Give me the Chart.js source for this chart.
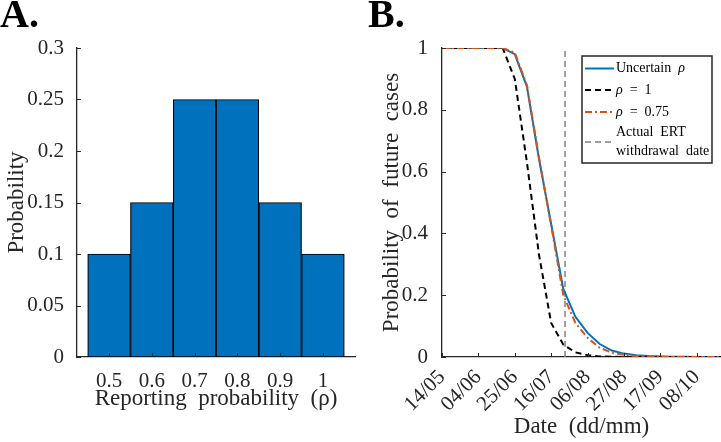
<!DOCTYPE html>
<html>
<head>
<meta charset="utf-8">
<script src="https://cdn.jsdelivr.net/npm/chart.js@4.4.1/dist/chart.umd.min.js"></script>
<style>
  body { margin: 0; background: #fff; }
  .panel { position: absolute; top: 0; height: 442px; }
  #panelA { left: 0; width: 360px; }
  #panelB { left: 360px; width: 361px; }
</style>
</head>
<body>
<div class="panel" id="panelA"><canvas id="chartA"></canvas></div>
<div class="panel" id="panelB"><canvas id="chartB"></canvas></div>
<script>
"use strict";

// Panel A: distribution of the reporting probability
const rhoValues = [0.5, 0.6, 0.7, 0.8, 0.9, 1];
const rhoProbs = [0.1, 0.15, 0.25, 0.25, 0.15, 0.1];
const probTicks = [0, 0.05, 0.1, 0.15, 0.2, 0.25, 0.3];

// Panel B: probability of future cases, days counted from 14/05
const days = [0, 7, 14, 21, 28, 35, 42, 49, 56, 63, 70, 77, 84, 91, 98, 105, 112, 119, 126, 133, 140, 147, 154, 161];
const uncertainRho = [1, 1, 1, 1, 1, 1, 0.98, 0.875, 0.64, 0.43, 0.22, 0.13, 0.078, 0.042, 0.021, 0.011, 0.006, 0.003, 0.002, 0.001, 0.001, 0, 0, 0];
const rhoOne = [1, 1, 1, 1, 1, 1, 0.9, 0.63, 0.33, 0.11, 0.04, 0.015, 0.006, 0.002, 0.001, 0, 0, 0, 0, 0, 0, 0, 0, 0];
const rhoThreeQuarter = [1, 1, 1, 1, 1, 1, 0.985, 0.88, 0.645, 0.425, 0.2, 0.11, 0.062, 0.03, 0.014, 0.007, 0.003, 0.002, 0.001, 0, 0, 0, 0, 0];
const dateTickDays = [0, 21, 42, 63, 84, 105, 126, 147];
const dateTickLabels = ["14/05", "04/06", "25/06", "16/07", "06/08", "27/08", "17/09", "08/10"];
const futureTicks = [0, 0.2, 0.4, 0.6, 0.8, 1];
const withdrawalDay = 71; // 24/07

const AXIS_COLOR = "#262626";
const SERIF = "'Liberation Serif', 'Times New Roman', serif";

Chart.defaults.font.family = SERIF;
Chart.defaults.color = AXIS_COLOR;
Chart.defaults.animation = false;

const toPoints = (xs, ys) => xs.map((x, i) => ({ x: x, y: ys[i] }));
const plainLabel = (value) => String(value);

// MATLAB-style tick marks pointing into the plot
const inwardTicks = {
  id: "inwardTicks",
  afterDatasetsDraw(chart) {
    const { ctx, chartArea, scales } = chart;
    ctx.save();
    ctx.strokeStyle = AXIS_COLOR;
    ctx.lineWidth = 1;
    ctx.beginPath();
    scales.x.ticks.forEach((t) => {
      const px = Math.round(scales.x.getPixelForValue(t.value)) + 0.5;
      ctx.moveTo(px, chartArea.bottom);
      ctx.lineTo(px, chartArea.bottom - 4);
    });
    scales.y.ticks.forEach((t) => {
      const py = Math.round(scales.y.getPixelForValue(t.value)) + 0.5;
      ctx.moveTo(chartArea.left, py);
      ctx.lineTo(chartArea.left + 4, py);
    });
    ctx.stroke();
    ctx.restore();
  }
};

// Panel letter in the top left corner
const panelLetter = {
  id: "panelLetter",
  afterDraw(chart, args, opts) {
    const ctx = chart.ctx;
    ctx.save();
    ctx.font = "bold 40px " + SERIF;
    ctx.fillStyle = "#000";
    ctx.textBaseline = "alphabetic";
    ctx.fillText(opts.text, opts.x, 27);
    ctx.restore();
  }
};

// draw a string with every rho in italics
const drawRich = (ctx, str, x, y) => {
  str.split(/(ρ)/).forEach((part) => {
    if (!part) return;
    ctx.font = (part === "ρ" ? "italic " : "") + "14px " + SERIF;
    ctx.fillText(part, x, y);
    x += ctx.measureText(part).width;
  });
};

// boxed legend of panel B, with a two-line last entry
const boxLegend = {
  id: "boxLegend",
  afterDraw(chart) {
    const ctx = chart.ctx;
    const left = 222, top = 56, right = 352, bottom = 163;
    const rows = [68.5, 90, 112, 142];
    ctx.save();
    ctx.fillStyle = "#fff";
    ctx.fillRect(left, top, right - left, bottom - top);
    ctx.strokeStyle = AXIS_COLOR;
    ctx.lineWidth = 1.5;
    ctx.strokeRect(left, top, right - left, bottom - top);
    ctx.textBaseline = "middle";
    ctx.fillStyle = "#000";
    chart.data.datasets.forEach((ds, i) => {
      const y = rows[i];
      ctx.save();
      ctx.strokeStyle = ds.borderColor;
      ctx.lineWidth = ds.borderWidth;
      ctx.setLineDash(ds.borderDash || []);
      ctx.beginPath();
      ctx.moveTo(left + 3, y);
      ctx.lineTo(left + 32, y);
      ctx.stroke();
      ctx.restore();
      const lines = ds.label.split("\n");
      lines.forEach((line, k) => {
        const ly = lines.length === 1 ? y : y - 9.5 + k * 19;
        drawRich(ctx, line, left + 34, ly);
      });
    });
    ctx.restore();
  }
};

const renderPanelA = () => {
  new Chart(document.getElementById("chartA"), {
    type: "bar",
    data: {
      datasets: [
        {
          data: toPoints(rhoValues, rhoProbs),
          backgroundColor: "#0072BD",
          borderColor: "#000",
          borderWidth: 1.2,
          borderSkipped: false,
          barPercentage: 1,
          categoryPercentage: 1
        }
      ]
    },
    options: {
      responsive: true,
      maintainAspectRatio: false,
      layout: { padding: { top: 48, right: 5, left: 0, bottom: 0 } },
      plugins: {
        legend: { display: false },
        tooltip: { enabled: false },
        panelLetter: { text: "A.", x: 0 }
      },
      scales: {
        x: {
          type: "linear",
          offset: false,
          min: 0.425,
          max: 1.075,
          afterBuildTicks: (scale) => {
            scale.ticks = rhoValues.map((v) => ({ value: v }));
          },
          afterFit: (scale) => { scale.height = 85; },
          grid: { display: false },
          border: { color: AXIS_COLOR, width: 1.3 },
          ticks: { font: { size: 21 }, padding: 4, maxRotation: 0, callback: plainLabel },
          title: {
            display: true,
            text: "Reporting  probability  (ρ)",
            font: { size: 23 },
            padding: { top: 0, bottom: 29 }
          }
        },
        y: {
          min: 0,
          max: 0.3,
          afterBuildTicks: (scale) => {
            scale.ticks = probTicks.map((v) => ({ value: v }));
          },
          afterFit: (scale) => { scale.width = 77; },
          grid: { display: false },
          border: { color: AXIS_COLOR, width: 1.3 },
          ticks: { font: { size: 21 }, padding: 5, callback: plainLabel },
          title: {
            display: true,
            text: "Probability",
            font: { size: 23 },
            padding: { top: 3, bottom: 0 }
          }
        }
      }
    },
    plugins: [inwardTicks, panelLetter]
  });
};

const renderPanelB = () => {
  new Chart(document.getElementById("chartB"), {
    type: "line",
    data: {
      datasets: [
        {
          label: "Uncertain  ρ",
          data: toPoints(days, uncertainRho),
          borderColor: "#0072BD",
          borderWidth: 2,
          order: 3
        },
        {
          label: "ρ  =  1",
          data: toPoints(days, rhoOne),
          borderColor: "#000",
          borderWidth: 2,
          borderDash: [6, 4],
          order: 2
        },
        {
          label: "ρ  =  0.75",
          data: toPoints(days, rhoThreeQuarter),
          borderColor: "#D95319",
          borderWidth: 2,
          borderDash: [7, 3, 2, 3],
          order: 1
        },
        {
          label: "Actual  ERT\nwithdrawal  date",
          data: [{ x: withdrawalDay, y: 0 }, { x: withdrawalDay, y: 1 }],
          borderColor: "#808080",
          borderWidth: 1.5,
          borderDash: [6, 4],
          order: 4
        }
      ]
    },
    options: {
      responsive: true,
      maintainAspectRatio: false,
      layout: { padding: { top: 48, right: 0, left: 0, bottom: 0 } },
      elements: { point: { radius: 0 }, line: { tension: 0 } },
      plugins: {
        legend: { display: false },
        tooltip: { enabled: false },
        panelLetter: { text: "B.", x: 8 }
      },
      scales: {
        x: {
          type: "linear",
          min: 0,
          max: 161,
          afterBuildTicks: (scale) => {
            scale.ticks = dateTickDays.map((v) => ({ value: v }));
          },
          afterFit: (scale) => { scale.height = 85; },
          grid: { display: false },
          border: { color: AXIS_COLOR, width: 1.3 },
          ticks: {
            font: { size: 21 },
            padding: 0,
            autoSkip: false,
            minRotation: 45,
            maxRotation: 45,
            callback: (value) => dateTickLabels[dateTickDays.indexOf(value)]
          },
          title: {
            display: true,
            text: "Date  (dd/mm)",
            font: { size: 23 },
            padding: { top: 0, bottom: 1 }
          }
        },
        y: {
          min: 0,
          max: 1,
          afterBuildTicks: (scale) => {
            scale.ticks = futureTicks.map((v) => ({ value: v }));
          },
          afterFit: (scale) => { scale.width = 82; },
          grid: { display: false },
          border: { color: AXIS_COLOR, width: 1.3 },
          ticks: { font: { size: 21 }, padding: 6, callback: plainLabel },
          title: {
            display: true,
            text: "Probability  of  future  cases",
            font: { size: 23 },
            padding: { top: 18, bottom: 0 }
          }
        }
      }
    },
    plugins: [inwardTicks, panelLetter, boxLegend]
  });
};

document.addEventListener("DOMContentLoaded", () => {
  renderPanelA();
  renderPanelB();
});
</script>
</body>
</html>
